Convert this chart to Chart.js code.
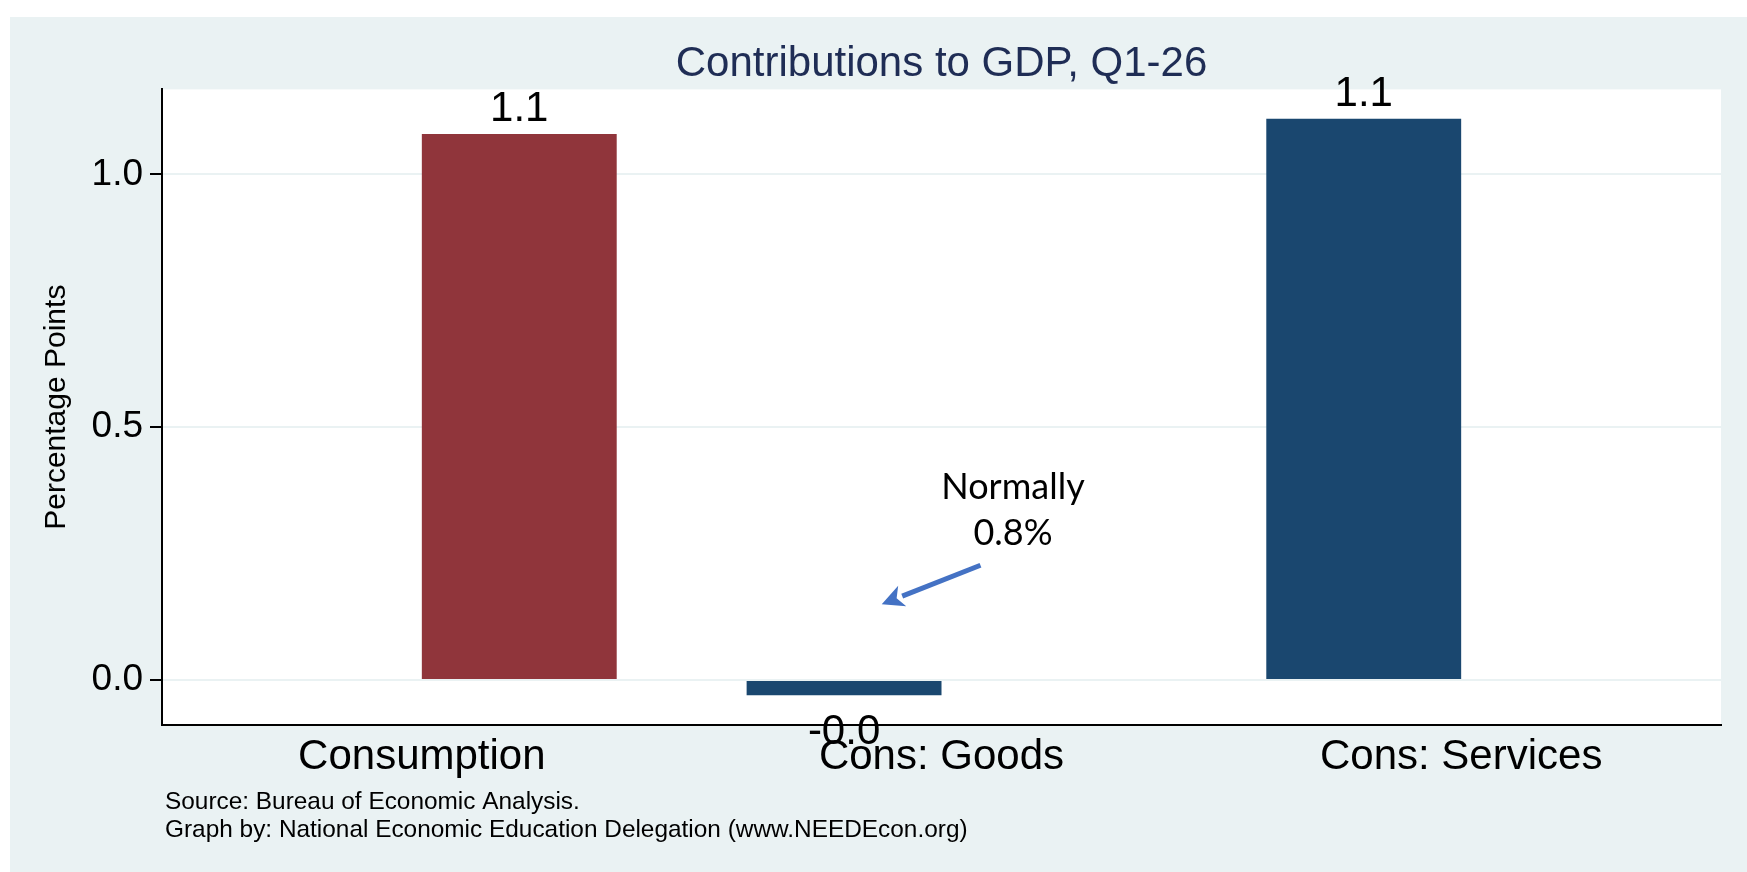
<!DOCTYPE html>
<html>
<head>
<meta charset="utf-8">
<title>Contributions to GDP, Q1-26</title>
<script src="https://cdn.jsdelivr.net/npm/chart.js@4.4.1/dist/chart.umd.min.js"></script>
<style>
  html, body { margin: 0; padding: 0; background: #ffffff; }
  #gdpChart { display: block; }
</style>
</head>
<body>
<canvas id="gdpChart" width="1747" height="872"></canvas>
<script>
// --- data ---
const categories = ['Consumption', 'Cons: Goods', 'Cons: Services'];
const catPos = [5.5, 10.5, 18.5];          // bar centres on the x axis (Stata gaps)
const labelPos = [4, 12, 20];               // where Stata put the category labels
const contributions = [1.08, -0.03, 1.11];  // percentage points
const yTicks = [0, 0.5, 1.0];
const noteLines = ['Normally', '0.8%'];
const noteAt = [13.1, 0.358, 0.267];        // x, y of line 1, y of line 2
const arrowFrom = [12.6, 0.227];
const arrowTo = [11.08, 0.150];
const sourceLines = [
    'Source: Bureau of Economic Analysis.',
    'Graph by: National Economic Education Delegation (www.NEEDEcon.org)'
];

// --- styles ---
const BG = '#eaf2f3';
const barColors = ['#90353b', '#1a476f', '#1a476f'];
const FONT = '"Liberation Sans", Arial, Helvetica, sans-serif';

// background: white frame, blue-grey graph region, white plot region
const backdrop = {
    id: 'backdrop',
    beforeDraw(chart) {
        const { ctx, chartArea: a } = chart;
        ctx.save();
        ctx.fillStyle = '#ffffff';
        ctx.fillRect(0, 0, chart.width, chart.height);
        ctx.fillStyle = BG;
        ctx.fillRect(10, 17, chart.width - 10, chart.height - 17);
        ctx.fillStyle = '#ffffff';
        ctx.fillRect(a.left, a.top, a.right - a.left, a.bottom - a.top);
        ctx.restore();
    }
};

// value labels above / below bars
const barLabels = {
    id: 'barLabels',
    afterDatasetsDraw(chart) {
        const ctx = chart.ctx;
        const meta = chart.getDatasetMeta(0);
        ctx.save();
        ctx.font = `42px ${FONT}`;
        ctx.fillStyle = '#000';
        ctx.textAlign = 'center';
        ctx.textBaseline = 'alphabetic';
        meta.data.forEach((bar, i) => {
            const v = contributions[i];
            const y = v >= 0 ? bar.y - 13 : bar.y + 49;
            ctx.fillText(v.toFixed(1), bar.x, y);
        });
        ctx.restore();
    }
};

// "Normally 0.8%" note with arrow
const note = {
    id: 'note',
    afterDatasetsDraw(chart) {
        const { ctx, scales: { x, y } } = chart;
        ctx.save();
        ctx.font = `36px Lato, "Open Sans", sans-serif`;
        ctx.fillStyle = '#000';
        ctx.textAlign = 'center';
        ctx.textBaseline = 'alphabetic';
        ctx.fillText(noteLines[0], x.getPixelForValue(noteAt[0]), y.getPixelForValue(noteAt[1]));
        ctx.fillText(noteLines[1], x.getPixelForValue(noteAt[0]), y.getPixelForValue(noteAt[2]));

        const x0 = x.getPixelForValue(arrowFrom[0]), y0 = y.getPixelForValue(arrowFrom[1]);
        const x1 = x.getPixelForValue(arrowTo[0]), y1 = y.getPixelForValue(arrowTo[1]);
        const ang = Math.atan2(y1 - y0, x1 - x0);
        const headLen = 22, headW = 11;
        const bx = x1 - headLen * Math.cos(ang), by = y1 - headLen * Math.sin(ang);
        ctx.strokeStyle = '#4472c4';
        ctx.fillStyle = '#4472c4';
        ctx.lineWidth = 5;
        ctx.beginPath();
        ctx.moveTo(x0, y0);
        ctx.lineTo(bx, by);
        ctx.stroke();
        ctx.beginPath();
        ctx.moveTo(x1, y1);
        ctx.lineTo(bx + headW * Math.sin(ang), by - headW * Math.cos(ang));
        ctx.lineTo(x1 - (headLen - 6) * Math.cos(ang), y1 - (headLen - 6) * Math.sin(ang));
        ctx.lineTo(bx - headW * Math.sin(ang), by + headW * Math.cos(ang));
        ctx.closePath();
        ctx.fill();
        ctx.restore();
    }
};

// source notes under the graph
const footnotes = {
    id: 'footnotes',
    afterDraw(chart) {
        const ctx = chart.ctx;
        ctx.save();
        ctx.font = `24.4px ${FONT}`;
        ctx.fillStyle = '#000';
        ctx.textAlign = 'left';
        ctx.textBaseline = 'alphabetic';
        sourceLines.forEach((line, i) => {
            ctx.fillText(line, chart.chartArea.left + 3, chart.height - 63 + i * 28);
        });
        ctx.restore();
    }
};

const ctx = document.getElementById('gdpChart').getContext('2d');
new Chart(ctx, {
    type: 'bar',
    data: {
        datasets: [{
            data: catPos.map((x, i) => ({ x: x, y: contributions[i] })),
            backgroundColor: barColors,
            borderWidth: 0,
            categoryPercentage: 1.0,
            barPercentage: 0.6
        }]
    },
    options: {
        responsive: false,
        animation: false,
        devicePixelRatio: 1,
        layout: { padding: { left: 12, right: 26, top: 0, bottom: 0 } },
        plugins: {
            legend: { display: false },
            tooltip: { enabled: false },
            title: {
                display: true,
                text: 'Contributions to GDP, Q1-26',
                color: '#1f2d55',
                fullSize: false,
                font: { family: FONT, size: 42, weight: 'normal' },
                padding: { top: 39, bottom: 0 }
            }
        },
        scales: {
            x: {
                type: 'linear',
                offset: false,
                min: 0,
                max: 24,
                afterBuildTicks: (scale) => { scale.ticks = labelPos.map(v => ({ value: v })); },
                afterFit: (scale) => { scale.height = 147; },
                grid: { display: false, drawTicks: false, offset: false },
                border: { display: true, color: '#000', width: 2 },
                ticks: {
                    autoSkip: false,
                    maxRotation: 0,
                    padding: 7,
                    color: '#000',
                    font: { family: FONT, size: 42 },
                    callback: (value) => categories[labelPos.indexOf(value)] || ''
                }
            },
            y: {
                min: -0.089,
                max: 1.168,
                afterBuildTicks: (scale) => { scale.ticks = yTicks.map(v => ({ value: v })); },
                afterFit: (scale) => { scale.width = 150; },
                grid: {
                    color: BG,
                    lineWidth: 2,
                    tickColor: '#000',
                    tickWidth: 2,
                    tickLength: 12
                },
                border: { display: true, color: '#000', width: 2 },
                ticks: {
                    padding: 7,
                    color: '#000',
                    font: { family: FONT, size: 37 },
                    callback: (value) => Number(value).toFixed(1)
                },
                title: {
                    display: true,
                    text: 'Percentage Points',
                    color: '#000',
                    font: { family: FONT, size: 30 },
                    padding: { top: 27, bottom: 0 }
                }
            }
        }
    },
    plugins: [backdrop, barLabels, note, footnotes]
});
</script>
</body>
</html>
